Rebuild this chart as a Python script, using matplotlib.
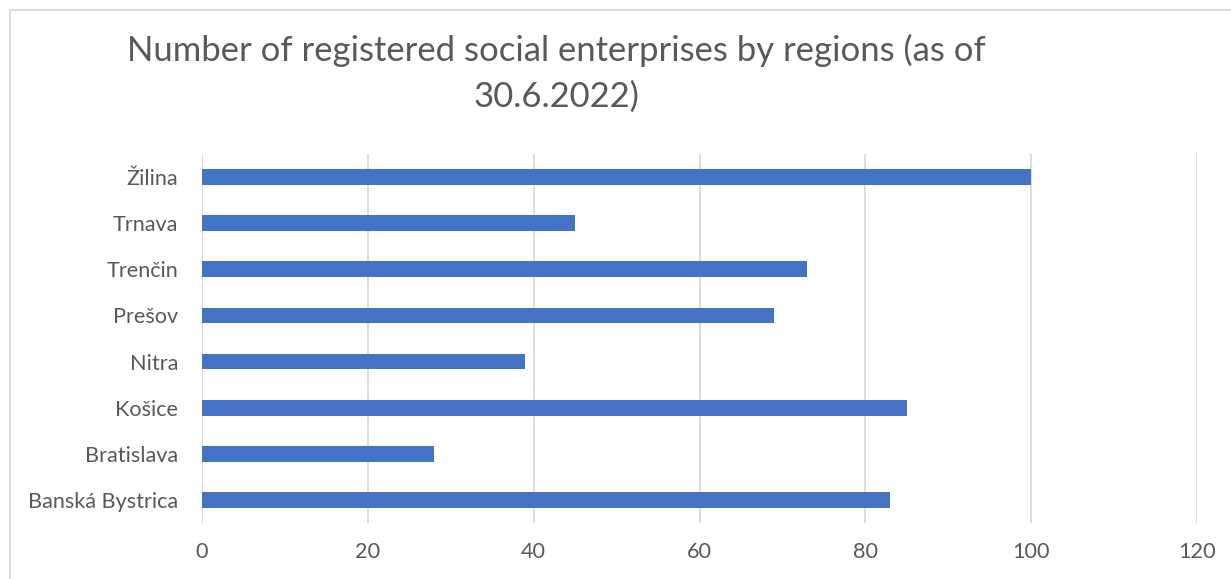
import numpy as np
import matplotlib.pyplot as plt
from matplotlib.patches import Rectangle

plt.rcParams['font.family'] = ['Lato', 'DejaVu Sans']

regions = ['Banská Bystrica', 'Bratislava', 'Košice', 'Nitra',
           'Prešov', 'Trenčin', 'Trnava', 'Žilina']
counts = [83, 28, 85, 39, 69, 73, 45, 100]
xticks = [0, 20, 40, 60, 80, 100, 120]

text_col = '#595959'
grid_col = '#d9d9d9'
bar_col = '#4472c4'

fig = plt.figure(figsize=(12.31, 5.79), dpi=100)
ax = fig.add_axes([202/1231, 1 - 523/579, (1197-202)/1231, (523-154)/579])

y = np.arange(len(regions))
ax.barh(y, counts, height=0.34, color=bar_col, zorder=3)

ax.set_xlim(0, 120)
ax.set_ylim(-0.5, len(regions) - 0.5)
ax.set_xticks(xticks)
ax.set_xticklabels([str(t) for t in xticks])
ax.set_yticks(y)
ax.set_yticklabels(regions)
ax.grid(axis='x', color=grid_col, linewidth=1.3, zorder=0)
ax.tick_params(axis='both', length=0, colors=text_col, labelsize=15.6)
ax.tick_params(axis='x', pad=14)
ax.tick_params(axis='y', pad=17)
for s in ax.spines.values():
    s.set_visible(False)

# outer chart frame (only top and left edges fall inside the image)
fig.patches.append(Rectangle((10/1231, -0.1), 1.2, 1 - 10/579 + 0.1,
                             transform=fig.transFigure, fill=False,
                             edgecolor='#d9d9d9', linewidth=1.3))

fig.text(556/1231, 1 - 50/579, 'Number of registered social enterprises by regions (as of',
         ha='center', va='center', fontsize=24.9, color=text_col)
fig.text(556/1231, 1 - 97/579, '30.6.2022)',
         ha='center', va='center', fontsize=24.9, color=text_col)

fig.savefig('out.png', dpi=100)
